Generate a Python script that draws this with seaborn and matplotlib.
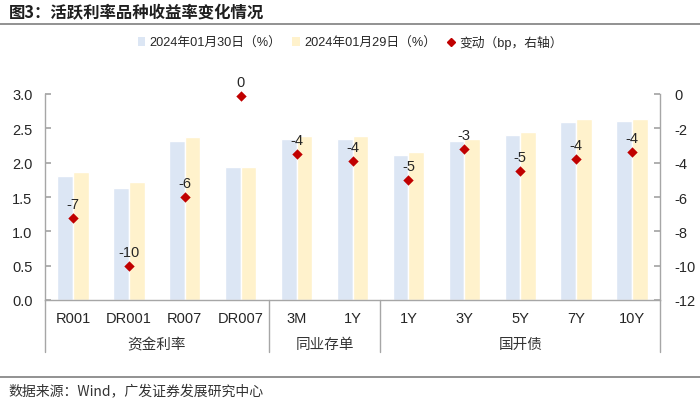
import matplotlib
matplotlib.use("Agg")
import matplotlib.pyplot as plt
import matplotlib.transforms as mtransforms
from matplotlib.patches import Patch
from matplotlib.lines import Line2D
import numpy as np
import pandas as pd
import seaborn as sns

# Data
keys = ['R001', 'DR001', 'R007', 'DR007', 'CD3M', 'CD1Y',
        'CDB1Y', 'CDB3Y', 'CDB5Y', 'CDB7Y', 'CDB10Y']
tick_labels = ['R001', 'DR001', 'R007', 'DR007', '3M', '1Y',
               '1Y', '3Y', '5Y', '7Y', '10Y']
yield_0130 = [1.81, 1.63, 2.32, 1.94, 2.35, 2.35, 2.11, 2.31, 2.41, 2.59, 2.60]
yield_0129 = [1.87, 1.72, 2.38, 1.94, 2.39, 2.39, 2.16, 2.35, 2.45, 2.63, 2.64]
change_bp = [-7.2, -10.0, -6.0, -0.1, -3.5, -3.9, -5.0, -3.2, -4.5, -3.8, -3.4]
change_text = ['-7', '-10', '-6', '0', '-4', '-4', '-5', '-3', '-5', '-4', '-4']
groups = ['资金利率', '同业存单', '国开债']
group_bounds = [(-0.5, 3.5), (3.5, 5.5), (5.5, 10.5)]

series_names = ['2024年01月30日（%）', '2024年01月29日（%）', '变动（bp，右轴）']
bar_colors = ['#DCE6F4', '#FFF2CC']
marker_color = '#C00000'

sns.set_theme(style='white')
plt.rcParams['font.family'] = ['Liberation Sans', 'Noto Sans CJK SC', 'DejaVu Sans']
plt.rcParams['axes.unicode_minus'] = False
cjk = ['Noto Sans CJK SC', 'DejaVu Sans']

df = pd.DataFrame({
    'key': keys * 2,
    'value': yield_0130 + yield_0129,
    'series': [series_names[0]] * len(keys) + [series_names[1]] * len(keys),
})

fig = plt.figure(figsize=(7.0, 4.06), dpi=100)
ax = fig.add_axes([45 / 700, 1 - 301 / 406, 615 / 700, 206 / 406])

sns.barplot(data=df, x='key', y='value', hue='series', order=keys,
            hue_order=series_names[:2], palette=bar_colors, width=0.56,
            saturation=1, legend=False, ax=ax)
ax.set_ylim(0, 3.0)
ax.set_yticks(np.arange(0, 3.01, 0.5))
ax.set_yticklabels(['%.1f' % v for v in np.arange(0, 3.01, 0.5)], fontsize=10.5)
ax.set_xlim(-0.5, len(keys) - 0.5)
ax.set_xticks(range(len(keys)))
ax.set_xticklabels(tick_labels, fontsize=10.5)
ax.set_xlabel('')
ax.set_ylabel('')
ax.tick_params(axis='y', direction='in', length=4, color='#A6A6A6', pad=9)
ax.tick_params(axis='x', length=0, pad=8)
for s in ['top', 'right']:
    ax.spines[s].set_visible(False)
for s in ['left', 'bottom']:
    ax.spines[s].set_color('#A6A6A6')
    ax.spines[s].set_linewidth(1.0)

ax2 = ax.twinx()
x_pos = np.arange(len(keys))
sns.scatterplot(x=x_pos, y=change_bp, marker='D', s=28, color=marker_color,
                edgecolor=marker_color, linewidth=0, ax=ax2, clip_on=False, zorder=5)
for xi, yi, t in zip(x_pos, change_bp, change_text):
    ax2.annotate(t, (xi, yi), xytext=(0, 5), textcoords='offset points',
                 ha='center', va='bottom', fontsize=10.5, annotation_clip=False)
ax2.set_ylim(-12, 0)
ax2.set_yticks(range(-12, 1, 2))
ax2.set_yticklabels([str(v) for v in range(-12, 1, 2)], fontsize=10.5)
ax2.tick_params(axis='y', direction='in', length=4, color='#A6A6A6', pad=10)
for s in ['top', 'left', 'bottom']:
    ax2.spines[s].set_visible(False)
ax2.spines['right'].set_color('#A6A6A6')
ax2.spines['right'].set_linewidth(1.0)

# group separators and group labels under the axis
trans = mtransforms.blended_transform_factory(ax.transData, ax.transAxes)
sep_x = sorted(set([b for pair in group_bounds for b in pair]))
for xs in sep_x:
    ax.plot([xs, xs], [0, -52 / 206], transform=trans, color='#A6A6A6',
            lw=1.0, clip_on=False)
for name, (a, b) in zip(groups, group_bounds):
    ax.text((a + b) / 2, -44 / 206, name, transform=trans, ha='center',
            va='center', fontsize=10.5, family=cjk, color='#333333')

# legend
handles = [Patch(facecolor=bar_colors[0], edgecolor='none'),
           Patch(facecolor=bar_colors[1], edgecolor='none'),
           Line2D([], [], marker='D', color='none', markerfacecolor=marker_color,
                  markeredgecolor=marker_color, markersize=4)]
leg = fig.legend(handles, series_names, loc='center', bbox_to_anchor=(0.5, 1 - 43 / 406),
                 ncol=3, frameon=False, handlelength=0.6, handleheight=0.6,
                 handletextpad=0.3, columnspacing=0.9,
                 prop={'family': ['Liberation Sans', 'Noto Sans CJK SC'], 'size': 9.2})

# title, rules and footer
fig.text(0.012, 1 - 13 / 406, '图3：活跃利率品种收益率变化情况', ha='left', va='center',
         fontsize=11.8, fontweight='bold', family=cjk, color='#1F1F1F')
fig.add_artist(Line2D([0, 1], [1 - 25 / 406] * 2, color='#7F7F7F', lw=1.2))
fig.add_artist(Line2D([0, 1], [1 - 378 / 406] * 2, color='#7F7F7F', lw=1.2))
fig.text(0.012, 1 - 391 / 406, '数据来源：Wind，广发证券发展研究中心', ha='left',
         va='center', fontsize=10, family=['Noto Sans CJK SC', 'DejaVu Sans'],
         color='#333333')

fig.savefig('out.png', dpi=100)
